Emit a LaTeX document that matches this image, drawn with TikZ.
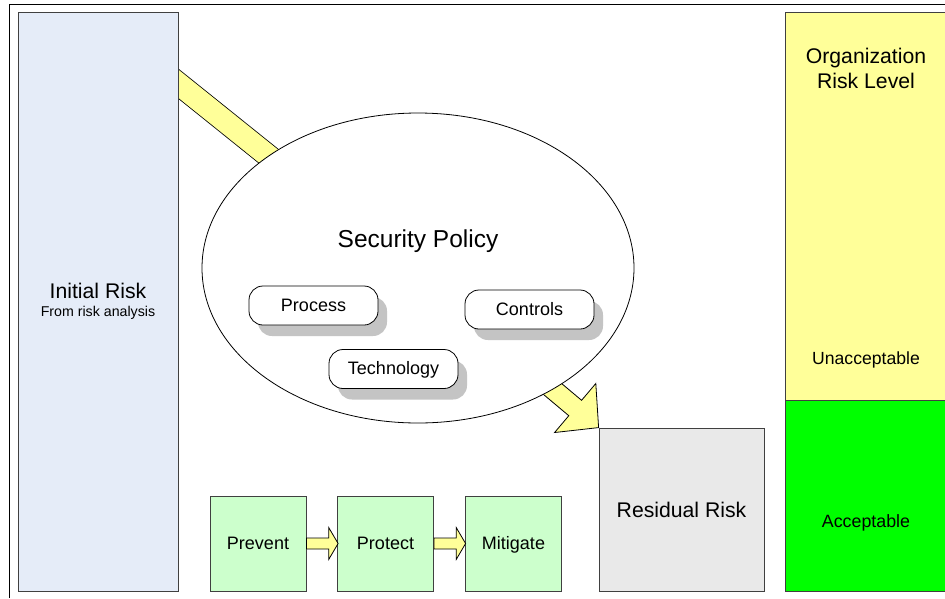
\documentclass[tikz,border=0pt]{standalone}
\usepackage{fontspec}
\setmainfont{Liberation Sans}
\usetikzlibrary{shapes.geometric,shadows}

\definecolor{riskblue}{HTML}{E5ECF8}
\definecolor{bandyellow}{HTML}{FFFF99}
\definecolor{stepgreen}{HTML}{CCFFCC}
\definecolor{okgreen}{HTML}{00FF00}
\definecolor{residgray}{HTML}{E9E9E9}
\definecolor{shadegray}{HTML}{C4C4C4}
\definecolor{boxline}{HTML}{404040}

\begin{document}
\begin{tikzpicture}[x=1pt,y=-1pt]
\tikzstyle{every node}=[inner sep=0pt, line width=.8pt]
\tikzstyle{bigbox}=[draw=boxline, rectangle]
\tikzstyle{part}=[draw, fill=white, rounded corners=14pt, minimum width=129pt, minimum height=39pt,
  drop shadow={fill=shadegray, opacity=1, shadow xshift=9pt, shadow yshift=-11pt},
  text height=13pt, text depth=1.5pt, font=\fontsize{18}{21}\selectfont]
\tikzstyle{stepbox}=[bigbox, fill=stepgreen, minimum width=96pt, minimum height=95pt,
  text height=13pt, text depth=1.5pt, font=\fontsize{18}{21}\selectfont]
\tikzstyle{fatarrow}=[draw=black, fill=bandyellow, line width=.8pt, line join=miter]
\useasboundingbox (0,0) rectangle (945,598);
\clip (0,0) rectangle (945,598);
\draw[line width=1pt] (9.5,598) -- (9.5,4.5) -- (950,4.5);
% band into the policy
\coordinate (bandin) at (170,77);
\coordinate (bandout) at (330,205.5);
\draw[line width=.8pt, double=bandyellow, double distance=22pt] (bandin) -- (bandout);
\draw (98,301.5) node (ir) [bigbox, fill=riskblue, minimum width=160pt, minimum height=579pt, align=center]
  {{\fontsize{21.2}{25}\selectfont Initial Risk}\\[6pt]{\fontsize{14.2}{16}\selectfont From risk analysis}};
\draw (681.5,509.5) node (rr) [bigbox, fill=residgray, minimum width=165pt, minimum height=163pt,
  font=\fontsize{21.2}{25}\selectfont] {Residual Risk};
\draw[fatarrow, shift={(rr.north west)}] (-54.9,-59.1) -- (-17,-27.3) -- (-2.8,-44.1) -- (0,0)
  -- (-44,4.9) -- (-29.8,-11.9) -- (-67.7,-43.7) -- cycle;
% policy
\draw (418,268) node (sp) [ellipse, draw, fill=white, minimum width=432pt, minimum height=310pt] {};
\draw (418,241) node (sptext) [font=\fontsize{24.5}{28}\selectfont] {Security Policy};
\draw (313.5,305.5) node (proc) [part] {Process};
\draw (529.5,309.5) node (ctrl) [part] {Controls};
\draw (393.5,369) node (tech) [part] {Technology};
% steps
\draw (258,543.5) node (pv) [stepbox] {Prevent};
\draw (385.5,543.5) node (pt) [stepbox] {Protect};
\draw (513.5,543.5) node (mt) [stepbox] {Mitigate};
\draw[fatarrow, shift={(pv.east)}] (0,-5.5) -- (22.3,-5.5) -- (22.3,-16) -- (31.7,0) -- (22.3,16) -- (22.3,5.5) -- (0,5.5) -- cycle;
\draw[fatarrow, shift={(pt.east)}] (0,-5.5) -- (22.3,-5.5) -- (22.3,-16) -- (31.7,0) -- (22.3,16) -- (22.3,5.5) -- (0,5.5) -- cycle;
% risk level
\draw (866,206.4) node (bad) [bigbox, fill=bandyellow, minimum width=162pt, minimum height=388.7pt] {};
\draw (866,495.9) node (good) [bigbox, fill=okgreen, minimum width=162pt, minimum height=190.3pt] {};
\draw (866,68.5) node (orl) [align=center, font=\fontsize{21.2}{25}\selectfont] {Organization\\Risk Level};
\draw (866,360) node (badtext) [font=\fontsize{17.6}{20}\selectfont] {Unacceptable};
\draw (866,523) node (goodtext) [font=\fontsize{17.8}{20}\selectfont] {Acceptable};
\end{tikzpicture}
\end{document}
